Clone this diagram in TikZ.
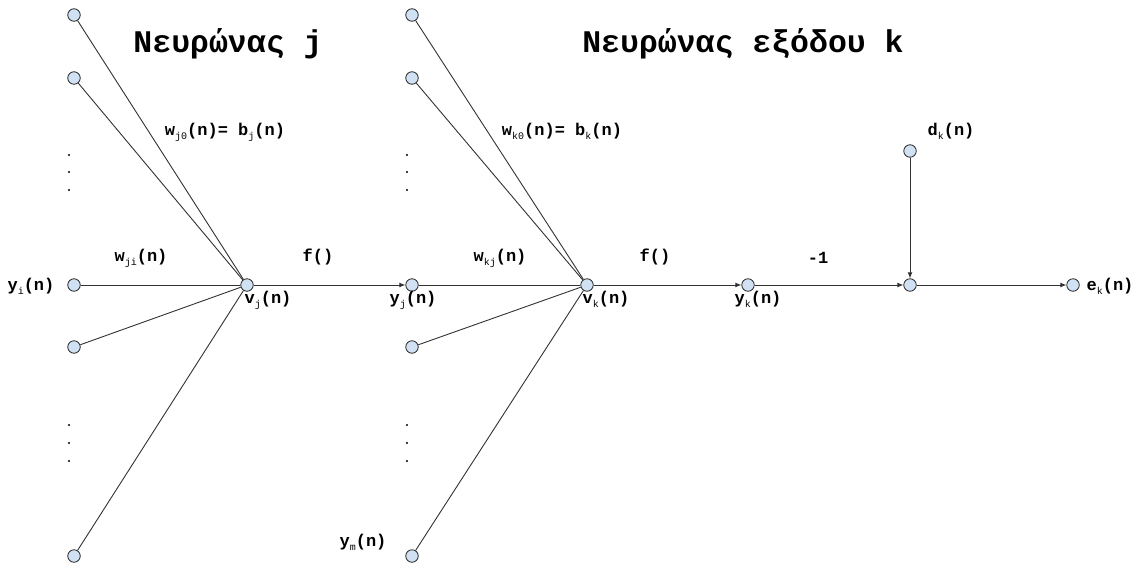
\documentclass[tikz,border=0pt]{standalone}
\usepackage{fontspec}
\setmainfont{Liberation Mono}
\usetikzlibrary{arrows.meta}
\newcommand\sbx[1]{\raisebox{-0.5ex}{\fontsize{10}{10}\selectfont\mdseries #1}}
\definecolor{nfill}{RGB}{207,225,243}
\definecolor{nline}{RGB}{40,40,40}
\definecolor{cline}{RGB}{50,50,50}
\tikzset{
  neuron/.style={circle, draw=nline, fill=nfill, minimum size=12.5pt, inner sep=0pt, line width=0.8pt},
  conn/.style={draw=cline, line width=0.9pt},
  arr/.style={conn, -{Latex[length=6pt,width=5pt]}},
  lbl/.style={font=\fontsize{17}{17}\selectfont\bfseries, inner sep=0pt, anchor=base},
  ttl/.style={font=\fontsize{31.5}{31.5}\selectfont\bfseries, inner sep=0pt, anchor=base},
  dot/.style={circle, fill=black, inner sep=0pt, minimum size=2.4pt}
}
\begin{document}
\begin{tikzpicture}[x=1pt,y=-1pt]
\useasboundingbox (0,0) rectangle (1137,565);
% neuron j inputs
\node[neuron] (a1) at (74,15) {};
\node[neuron] (a2) at (74,78) {};
\node[neuron] (yi) at (74,285) {};
\node[neuron] (a4) at (74,347) {};
\node[neuron] (a5) at (74,556) {};
\node[neuron] (vj) at (247,285) {};
% neuron k inputs
\node[neuron] (b1) at (412,15) {};
\node[neuron] (b2) at (412,78) {};
\node[neuron] (yj) at (412,285) {};
\node[neuron] (b4) at (412,347) {};
\node[neuron] (ym) at (412,556) {};
\node[neuron] (vk) at (587,285) {};
\node[neuron] (yk) at (748,285) {};
\node[neuron] (sum) at (910,285) {};
\node[neuron] (dk) at (910,151) {};
\node[neuron] (ek) at (1073,285) {};
% dots
\foreach \y [count=\i] in {155,172,190,425,443,461} {
  \node[dot] (dl\i) at (69,\y) {};
  \node[dot] (dr\i) at (407,\y) {};
}
% connectors
\foreach \s in {a1,a2,yi,a4,a5} \draw[conn] (\s) -- (vj);
\foreach \s in {b1,b2,yj,b4,ym} \draw[conn] (\s) -- (vk);
\draw[arr] (vj) -- (yj);
\draw[arr] (vk) -- (yk);
\draw[arr] (yk) -- (sum);
\draw[arr] (dk) -- (sum);
\draw[arr] (sum) -- (ek);
% titles
\node[ttl] (t1) at (228,52) {Νευρώνας j};
\node[ttl] (t2) at (743,52) {Νευρώνας εξόδου k};
% labels
\node[lbl] (lw0) at (225,135) {w\sbx{j0}(n)= b\sbx{j}(n)};
\node[lbl] (lk0) at (562,135) {w\sbx{k0}(n)= b\sbx{k}(n)};
\node[lbl] (lwji) at (141,261) {w\sbx{ji}(n)};
\node[lbl] (lf1) at (318,261) {f()};
\node[lbl] (lyi) at (31,290) {y\sbx{i}(n)};
\node[lbl] (lvj) at (268,303) {v\sbx{j}(n)};
\node[lbl] (lyj) at (413,303) {y\sbx{j}(n)};
\node[lbl] (lwkj) at (500,261) {w\sbx{kj}(n)};
\node[lbl] (lf2) at (655,261) {f()};
\node[lbl] (lvk) at (606,303) {v\sbx{k}(n)};
\node[lbl] (lyk) at (758,303) {y\sbx{k}(n)};
\node[lbl] (lm1) at (818,263) {-1};
\node[lbl] (ldk) at (951,135) {d\sbx{k}(n)};
\node[lbl] (lek) at (1110,290) {e\sbx{k}(n)};
\node[lbl] (lym) at (363,546) {y\sbx{m}(n)};
\end{tikzpicture}
\end{document}
